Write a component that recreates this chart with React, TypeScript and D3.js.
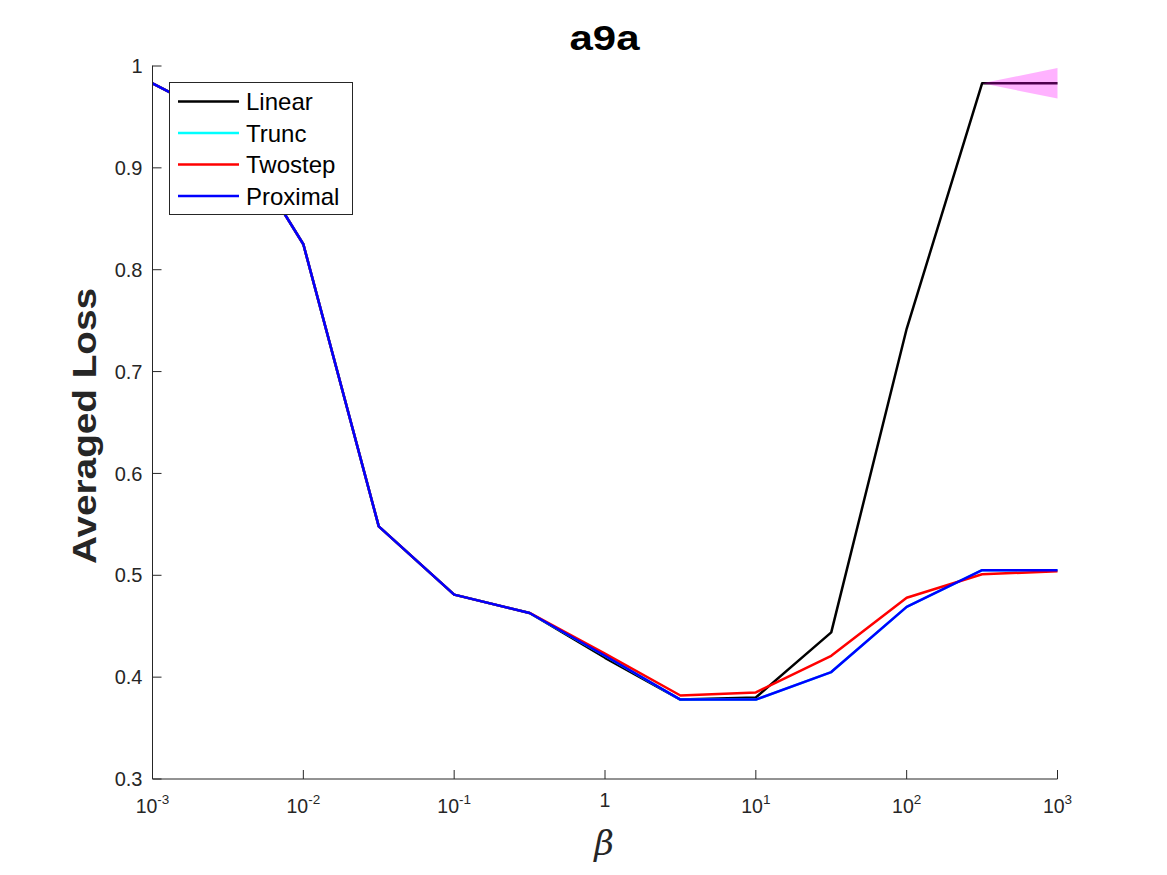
import React from "react";
import * as d3 from "d3";

const betas = [0.001, 0.0031623, 0.01, 0.031623, 0.1, 0.31623, 1, 3.1623, 10, 31.623, 100, 316.23, 1000];
const linear = [0.983, 0.945, 0.825, 0.548, 0.481, 0.463, 0.419, 0.378, 0.380, 0.444, 0.742, 0.983, 0.983];
const linearStd = [0, 0, 0, 0, 0, 0, 0, 0, 0, 0, 0, 0, 0.015];
const trunc = [0.983, 0.945, 0.825, 0.548, 0.481, 0.463, 0.421, 0.378, 0.378, 0.405, 0.469, 0.505, 0.505];
const twostep = [0.983, 0.945, 0.825, 0.548, 0.481, 0.463, 0.423, 0.382, 0.385, 0.421, 0.478, 0.501, 0.504];
const proximal = [0.983, 0.945, 0.825, 0.548, 0.481, 0.463, 0.421, 0.378, 0.378, 0.405, 0.469, 0.505, 0.505];
const seriesNames = ["Linear", "Trunc", "Twostep", "Proximal"];
const seriesColors = ["#000000", "#00ffff", "#ff0000", "#0000ff"];
const xTickExps = [-3, -2, -1, 0, 1, 2, 3];
const yTicks = [0.3, 0.4, 0.5, 0.6, 0.7, 0.8, 0.9, 1];

const W = 1167, H = 875;
const M = { left: 152.5, right: 1057.5, top: 66, bottom: 779 };
const FONT = "'Liberation Sans', Arial, Helvetica, sans-serif";

export default function App() {
  const x = d3.scaleLog().domain([0.001, 1000]).range([M.left, M.right]);
  const y = d3.scaleLinear().domain([0.3, 1]).range([M.bottom, M.top]);
  const seriesData = [linear, trunc, twostep, proximal];
  const line = d3.line<number>().x((_, i) => x(betas[i])).y((d) => y(d));
  const area = d3
    .area<number>()
    .x((_, i) => x(betas[i]))
    .y0((d, i) => y(d - linearStd[i]))
    .y1((d, i) => y(d + linearStd[i]));
  const legendX = 169.5, legendY = 82.5, legendW = 183, legendH = 132;
  return (
    <svg width={W} height={H} style={{ position: "absolute", left: 0, top: 0, background: "#fff" }} fontFamily={FONT}>
      <rect x={0} y={0} width={W} height={H} fill="#fff" />
      {seriesData.map((s, k) => (
        <path key={k} d={line(s) || ""} fill="none" stroke={seriesColors[k]} strokeWidth={2.5} strokeLinejoin="round" />
      ))}
      <path d={area(linear) || ""} fill="#ff00ff" fillOpacity={0.3} stroke="none" />
      {/* axes */}
      <line x1={M.left} x2={M.left} y1={M.top - 0.5} y2={M.bottom} stroke="#262626" strokeWidth={1} />
      <line x1={M.left} x2={M.right} y1={M.bottom} y2={M.bottom} stroke="#262626" strokeWidth={1} />
      {yTicks.map((t) => (
        <g key={t}>
          <line x1={M.left} x2={M.left + 9} y1={y(t)} y2={y(t)} stroke="#262626" strokeWidth={1} />
          <text x={M.left - 10} y={y(t)} dy="0.36em" textAnchor="end" fontSize={20} fill="#262626">
            {t === 1 ? "1" : t.toFixed(1)}
          </text>
        </g>
      ))}
      {xTickExps.map((e) => {
        const xv = x(Math.pow(10, e));
        return (
          <g key={e}>
            <line x1={xv} x2={xv} y1={M.bottom} y2={M.bottom - 9} stroke="#262626" strokeWidth={1} />
            {e === 0 ? (
              <text x={xv} y={807} textAnchor="middle" fontSize={19.5} fill="#262626">1</text>
            ) : (
              <text x={xv} y={813} textAnchor="middle" fontSize={19.5} fill="#262626">
                10
                <tspan fontSize={13.5} dy={-9}>{String(e)}</tspan>
              </text>
            )}
          </g>
        );
      })}
      {/* labels */}
      <text x={604.5} y={50} textAnchor="middle" fontSize={35} fontWeight="bold" fill="#000" textLength={70} lengthAdjust="spacingAndGlyphs">a9a</text>
      <text transform={`translate(96,426) rotate(-90)`} textAnchor="middle" fontSize={34} fontWeight="bold" fill="#262626" textLength={276} lengthAdjust="spacingAndGlyphs">
        Averaged Loss
      </text>
      <text x={604} y={855} textAnchor="middle" fontSize={34} fontStyle="italic" fontFamily="'DejaVu Serif', 'Liberation Serif', serif" fill="#262626">β</text>
      {/* legend */}
      <rect x={legendX} y={legendY} width={legendW} height={legendH} fill="#fff" stroke="#262626" strokeWidth={1} />
      {seriesNames.map((n, k) => {
        const ly = legendY + 19 + k * 31.5;
        return (
          <g key={n}>
            <line x1={178} x2={239} y1={ly} y2={ly} stroke={seriesColors[k]} strokeWidth={2.5} />
            <text x={246} y={ly} dy="0.36em" fontSize={24} fill="#000">{n}</text>
          </g>
        );
      })}
    </svg>
  );
}
